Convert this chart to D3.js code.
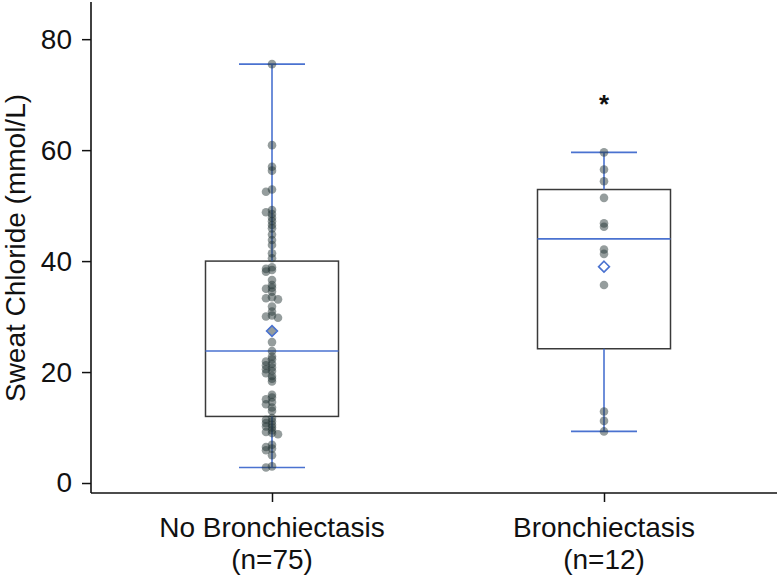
<!DOCTYPE html>
<html>
<head>
<meta charset="utf-8">
<script src="https://cdn.jsdelivr.net/npm/d3@7"></script>
<style>
  html, body { margin: 0; padding: 0; background: #fff; }
  svg { display: block; }
  text { font-family: "Liberation Sans", Arial, Helvetica, sans-serif; fill: #111; }
</style>
</head>
<body>
<svg id="chart" width="777" height="578"></svg>
<script>
// ---------------- data ----------------
const categories = ["No Bronchiectasis", "Bronchiectasis"];
const nLabels = ["(n=75)", "(n=12)"];

const noBronchiectasisValues = [
  75.5, 60.9, 57.0, 56.3, 52.9, 52.5, 49.2, 48.8, 48.5, 47.8, 47.2, 46.5, 45.9, 44.8, 43.8, 42.9, 41.4, 40.5,
  38.9, 38.6, 38.4, 38.1, 36.6, 35.7, 35.2, 35.0, 34.5, 33.5, 33.3, 33.1, 31.8, 30.9, 30.2, 30.0, 29.8, 27.4, 25.4,
  23.8,
  22.8, 22.3, 21.9, 21.5, 21.2, 20.8, 20.5, 20.2, 19.8, 19.3, 18.8, 18.3, 15.9, 15.4, 15.1, 14.6, 14.2, 13.6, 13.0,
  11.7, 11.4, 11.1, 10.8, 10.5, 10.2, 10.0, 9.5, 9.2, 9.0, 8.8, 6.9, 6.5, 6.2, 5.9, 5.0, 3.0, 2.8
];
const bronchiectasisValues = [59.6, 56.5, 54.4, 51.4, 46.8, 46.2, 42.1, 41.3, 35.7, 12.9, 11.2, 9.3];

const q1Values      = [12.0, 24.2];
const medianValues  = [23.8, 44.0];
const q3Values      = [40.0, 52.9];
const whiskerLow    = [2.8, 9.3];
const whiskerHigh   = [75.5, 59.6];
const meanValues    = [27.4, 39.0];
const significance  = ["", "*"];
const significanceY = [null, 68.0];

const yTicks = [0, 20, 40, 60, 80];
const yLabel = "Sweat Chloride (mmol/L)";

// ---------------- chart ----------------
const svg = d3.select("#chart");
const W = 777, H = 578;
const axisX = 91, axisY = 493, topY = 2;

const y = d3.scaleLinear().domain([-1.8, 86.7]).range([axisY, topY]);
const x = d3.scalePoint().domain(categories).range([272, 604]);

const boxHalf = 66.5, capHalf = 33;
const blue = "#4a72d0";
const fontSize = 28;

const groups = [noBronchiectasisValues, bronchiectasisValues];

// boxes
categories.forEach((c, i) => {
  const cx = x(c);
  const g = svg.append("g");
  g.append("rect")
    .attr("x", cx - boxHalf).attr("width", boxHalf * 2)
    .attr("y", y(q3Values[i])).attr("height", y(q1Values[i]) - y(q3Values[i]))
    .attr("fill", "none").attr("stroke", "#3a3a3a").attr("stroke-width", 1.5);
  g.append("line").attr("x1", cx).attr("x2", cx)
    .attr("y1", y(q3Values[i])).attr("y2", y(whiskerHigh[i]))
    .attr("stroke", blue).attr("stroke-width", 1.6);
  g.append("line").attr("x1", cx).attr("x2", cx)
    .attr("y1", y(q1Values[i])).attr("y2", y(whiskerLow[i]))
    .attr("stroke", blue).attr("stroke-width", 1.6);
  [whiskerHigh[i], whiskerLow[i]].forEach(v => {
    g.append("line").attr("x1", cx - capHalf).attr("x2", cx + capHalf)
      .attr("y1", y(v)).attr("y2", y(v))
      .attr("stroke", blue).attr("stroke-width", 1.6);
  });
  g.append("line").attr("x1", cx - boxHalf).attr("x2", cx + boxHalf)
    .attr("y1", y(medianValues[i])).attr("y2", y(medianValues[i]))
    .attr("stroke", blue).attr("stroke-width", 1.6);
});

// points (small dodge only for near-identical values)
function swarm(values, cx) {
  const placed = [];
  const offsets = [0, -6, 6];
  values.slice().sort((a, b) => b - a).forEach(v => {
    const py = y(v);
    let best = 0, bestCount = Infinity;
    offsets.forEach(o => {
      const count = placed.filter(p => Math.abs(p.y - py) < 2.5 && Math.abs(p.x - (cx + o)) < 5).length;
      if (count < bestCount) { bestCount = count; best = o; }
    });
    placed.push({ x: cx + best, y: py, v });
  });
  return placed;
}

categories.forEach((c, i) => {
  const pts = swarm(groups[i], x(c));
  svg.append("g").selectAll("circle").data(pts).join("circle")
    .attr("cx", d => d.x).attr("cy", d => d.y).attr("r", 4.3)
    .attr("fill", "#223232").attr("fill-opacity", 0.48);
});

// means (diamonds)
categories.forEach((c, i) => {
  svg.append("path")
    .attr("d", d3.symbol(d3.symbolDiamond2, 75)())
    .attr("transform", `translate(${x(c)},${y(meanValues[i])})`)
    .attr("fill", "none").attr("stroke", blue).attr("stroke-width", 1.6);
});

// significance
categories.forEach((c, i) => {
  if (!significance[i]) return;
  svg.append("text").attr("x", x(c)).attr("y", y(significanceY[i]))
    .attr("text-anchor", "middle").attr("dominant-baseline", "middle")
    .attr("font-size", 26).attr("font-weight", "bold").text(significance[i]);
});

// axes
const yAxis = d3.axisLeft(y).tickValues(yTicks).tickSize(9).tickSizeOuter(0).tickPadding(10);
const gy = svg.append("g").attr("transform", `translate(${axisX},0)`).call(yAxis);
gy.select(".domain").remove();
gy.selectAll(".tick line").attr("stroke", "#111").attr("stroke-width", 1.5);
gy.selectAll(".tick text").attr("font-size", fontSize).attr("fill", "#111")
  .style("font-family", '"Liberation Sans", Arial, sans-serif');

const xAxis = d3.axisBottom(x).tickSize(9).tickSizeOuter(0).tickFormat("");
const gx = svg.append("g").attr("transform", `translate(0,${axisY})`).call(xAxis);
gx.select(".domain").remove();
gx.selectAll(".tick line").attr("stroke", "#111").attr("stroke-width", 1.5);

svg.append("line").attr("x1", axisX).attr("x2", axisX).attr("y1", topY).attr("y2", axisY)
  .attr("stroke", "#111").attr("stroke-width", 1.6);
svg.append("line").attr("x1", axisX).attr("x2", W).attr("y1", axisY).attr("y2", axisY)
  .attr("stroke", "#111").attr("stroke-width", 1.6);

// x tick labels (two lines)
categories.forEach((c, i) => {
  const t = svg.append("text").attr("x", x(c)).attr("text-anchor", "middle").attr("font-size", fontSize);
  t.append("tspan").attr("x", x(c)).attr("y", 537).text(c);
  t.append("tspan").attr("x", x(c)).attr("y", 569).text(nLabels[i]);
});

// y label
svg.append("text")
  .attr("transform", `translate(25,${248}) rotate(-90)`)
  .attr("text-anchor", "middle").attr("font-size", fontSize)
  .text(yLabel);
</script>
</body>
</html>
